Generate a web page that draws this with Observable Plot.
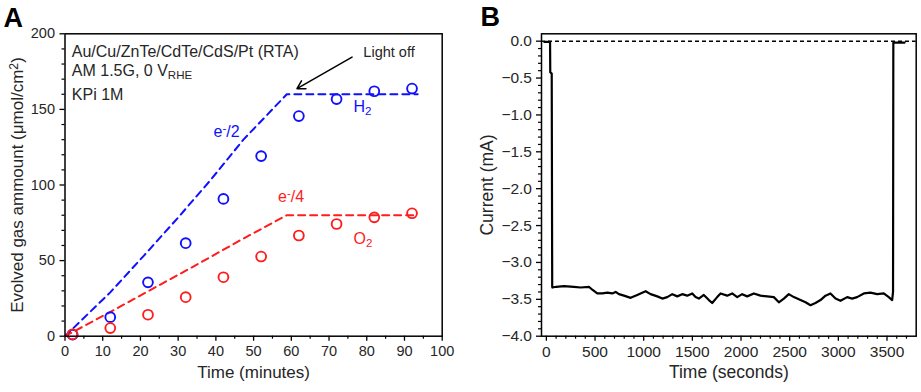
<!DOCTYPE html>
<html><head><meta charset="utf-8">
<script src="https://cdn.jsdelivr.net/npm/d3@7"></script>
<script src="https://cdn.jsdelivr.net/npm/@observablehq/plot@0.6"></script>
<style>
body{margin:0;background:#fff;}
#wrap{position:relative;width:921px;height:392px;overflow:hidden;font-family:"Liberation Sans",Arial,sans-serif;}
#a{position:absolute;left:0;top:0;}
#b{position:absolute;left:460px;top:0;}
</style></head><body><div id="wrap"><div id="a"></div><div id="b"></div></div>
<script>
// ---------- Panel A data ----------
const timeMin = [2, 12, 22, 32, 42, 52, 62, 72, 82, 92];
const h2Amount = [1, 12.6, 35.6, 61.5, 90.8, 119.1, 145.6, 156.8, 162, 163.8];
const o2Amount = [1.2, 5.4, 14.2, 25.8, 39, 52.7, 66.6, 74.2, 78.6, 81.3];
const theoTimeH2 = [0, 12, 21, 30, 38.5, 47.3, 58.8, 93.5];
const theoH2 = [0, 29, 53.5, 78.5, 103, 130, 160, 160];
const theoTimeO2 = [0, 12, 22.6, 35.8, 46.5, 58.8, 93.5];
const theoO2 = [0, 16, 30.5, 48.5, 63.5, 80, 80];
const xTicksA = [0, 10, 20, 30, 40, 50, 60, 70, 80, 90, 100];
const xMinorA = [5, 15, 25, 35, 45, 55, 65, 75, 85, 95];
const yTicksA = [0, 50, 100, 150, 200];
const yMinorA = [10, 20, 30, 40, 60, 70, 80, 90, 110, 120, 130, 140, 160, 170, 180, 190];
const notesA = [
  {x: 1.8, y: 184.6, text: "Au/Cu/ZnTe/CdTe/CdS/Pt (RTA)"},
  {x: 1.8, y: 171.8, text: "AM 1.5G, 0 V_{RHE}"},
  {x: 1.8, y: 156.0, text: "KPi 1M"}
];
const seriesLabelsA = [
  {x: 39.4, y: 131.6, text: "e^{-}/2", color: "blue"},
  {x: 76.5, y: 148.5, text: "H_{2}", color: "blue"},
  {x: 56.5, y: 88.7, text: "e^{-}/4", color: "red"},
  {x: 76.5, y: 61.1, text: "O_{2}", color: "red"}
];
const lightOff = {label: "Light off", lx: 79.1, ly: 184.4, x1: 76.1, y1: 184.6, x2: 61.5, y2: 163.7};

// ---------- Panel B data ----------
const tSec = [-20, 38, 40, 55, 60, 62, 100, 181, 283, 352, 437, 472, 523, 575, 626, 677, 712, 746, 797, 866, 934, 985, 1020, 1071, 1140, 1191, 1242, 1294, 1345, 1396, 1447, 1499, 1533, 1567, 1618, 1670, 1704, 1755, 1790, 1858, 1909, 1961, 2012, 2063, 2132, 2200, 2269, 2337, 2389, 2440, 2491, 2543, 2611, 2663, 2714, 2765, 2817, 2868, 2919, 2971, 3022, 3091, 3142, 3193, 3262, 3330, 3399, 3467, 3518, 3553, 3562, 3565, 3680];
const currentMA = [-0.01, -0.01, -0.42, -0.44, -3.33, -3.34, -3.33, -3.32, -3.33, -3.34, -3.33, -3.37, -3.42, -3.42, -3.41, -3.42, -3.40, -3.43, -3.45, -3.48, -3.44, -3.41, -3.39, -3.43, -3.46, -3.49, -3.47, -3.43, -3.46, -3.43, -3.45, -3.42, -3.47, -3.49, -3.44, -3.51, -3.55, -3.47, -3.42, -3.45, -3.42, -3.47, -3.43, -3.46, -3.42, -3.45, -3.46, -3.47, -3.54, -3.49, -3.43, -3.47, -3.51, -3.54, -3.58, -3.55, -3.51, -3.45, -3.42, -3.49, -3.52, -3.47, -3.49, -3.47, -3.42, -3.41, -3.43, -3.42, -3.47, -3.51, -3.40, -0.02, -0.02];
const xTicksB = [0, 500, 1000, 1500, 2000, 2500, 3000, 3500];
const xMinorB = [100, 200, 300, 400, 600, 700, 800, 900, 1100, 1200, 1300, 1400, 1600, 1700, 1800, 1900, 2100, 2200, 2300, 2400, 2600, 2700, 2800, 2900, 3100, 3200, 3300, 3400, 3600, 3700];
const yTicksB = [0, -0.5, -1.0, -1.5, -2.0, -2.5, -3.0, -3.5, -4.0];
const yMinorB = [-0.1, -0.2, -0.3, -0.4, -0.6, -0.7, -0.8, -0.9, -1.1, -1.2, -1.3, -1.4, -1.6, -1.7, -1.8, -1.9, -2.1, -2.2, -2.3, -2.4, -2.6, -2.7, -2.8, -2.9, -3.1, -3.2, -3.3, -3.4, -3.6, -3.7, -3.8, -3.9];

// ---------- styling ----------
const FONT = '"Liberation Sans", Arial, sans-serif';
const BLUE = "#1010ff", RED = "#ff1c1c", INK = "#262626";

function richify(svg) {
  const NS = "http://www.w3.org/2000/svg";
  svg.querySelectorAll("text").forEach(t => {
    const s = t.textContent;
    if (!/[_^]\{/.test(s)) return;
    t.textContent = "";
    const add = (str, kind) => {
      const ts = document.createElementNS(NS, "tspan");
      ts.textContent = str;
      if (kind) {
        ts.setAttribute("baseline-shift", kind === "_" ? "-22%" : "38%");
        ts.setAttribute("font-size", "72%");
      }
      t.appendChild(ts);
    };
    const re = /([_^])\{([^}]*)\}/g; let last = 0, m;
    while ((m = re.exec(s))) {
      if (m.index > last) add(s.slice(last, m.index), null);
      add(m[2], m[1]);
      last = re.lastIndex;
    }
    if (last < s.length) add(s.slice(last), null);
  });
  return svg;
}

// ---------- Panel A ----------
const pts = timeMin.map((t, i) => ({t, h2: h2Amount[i], o2: o2Amount[i]}));
const lineH2 = theoTimeH2.map((t, i) => ({t, v: theoH2[i]}));
const lineO2 = theoTimeO2.map((t, i) => ({t, v: theoO2[i]}));

const plotA = Plot.plot({
  width: 460, height: 392,
  marginLeft: 64.5, marginRight: 18.3, marginTop: 33.3, marginBottom: 56.3,
  style: {fontFamily: FONT, fontSize: "14.5px", color: "black", background: "white", overflow: "visible"},
  x: {domain: [0, 100]},
  y: {domain: [0, 200]},
  marks: [
    Plot.axisX({ticks: xTicksA, tickSize: 5, tickPadding: 5, strokeWidth: 1.3, fill: INK, fontSize: 14.5, label: null}),
    Plot.axisX({ticks: xMinorA, tickSize: 3, tickFormat: () => "", strokeWidth: 1.2, label: null}),
    Plot.axisY({ticks: yTicksA, tickSize: 5, tickPadding: 5, strokeWidth: 1.3, fill: INK, fontSize: 14.5, label: null}),
    Plot.axisY({ticks: yMinorA, tickSize: 3, tickFormat: () => "", strokeWidth: 1.2, label: null}),
    Plot.line(lineH2, {x: "t", y: "v", stroke: BLUE, strokeWidth: 2, strokeDasharray: "7,5"}),
    Plot.line(lineO2, {x: "t", y: "v", stroke: RED, strokeWidth: 2, strokeDasharray: "7,5"}),
    Plot.dot(pts, {x: "t", y: "h2", r: 4.9, stroke: BLUE, strokeWidth: 1.9, fill: "none"}),
    Plot.dot(pts, {x: "t", y: "o2", r: 4.9, stroke: RED, strokeWidth: 1.9, fill: "none"}),
    Plot.arrow([lightOff], {x1: "x1", y1: "y1", x2: "x2", y2: "y2", stroke: "black", strokeWidth: 1.5, headLength: 9}),
    Plot.text([lightOff], {x: "lx", y: "ly", text: "label", textAnchor: "start", lineAnchor: "bottom", fontSize: 14.5, fill: INK}),
    Plot.text(notesA, {x: "x", y: "y", text: "text", textAnchor: "start", lineAnchor: "bottom", fontSize: 16, fill: INK}),
    Plot.text(seriesLabelsA, {x: "x", y: "y", text: "text", textAnchor: "start", lineAnchor: "bottom", fontSize: 16, fill: d => d.color === "blue" ? BLUE : RED}),
    Plot.text(["Time (minutes)"], {text: d => d, frameAnchor: "bottom", textAnchor: "middle", dy: 42, fontSize: 17, fill: INK}),
    Plot.text(["Evolved gas ammount (\u03bcmol/cm^{2})"], {text: d => d, frameAnchor: "left", textAnchor: "middle", rotate: -90, dx: -47.5, fontSize: 17, fill: INK}),
    Plot.text(["A"], {text: d => d, frameAnchor: "top-left", dx: -61.5, dy: -6.6, textAnchor: "start", lineAnchor: "bottom", fontSize: 27, fontWeight: "bold", fill: "black"}),
    Plot.frame({stroke: "black", strokeWidth: 1.5})
  ]
});
document.getElementById("a").appendChild(richify(plotA));

// ---------- Panel B ----------
const trace = tSec.map((t, i) => ({t, i: currentMA[i]}));
const plotB = Plot.plot({
  width: 461, height: 392,
  marginLeft: 81, marginRight: 5.3, marginTop: 33.3, marginBottom: 56.3,
  style: {fontFamily: FONT, fontSize: "15.5px", color: "black", background: "white", overflow: "visible"},
  x: {domain: [-50, 3800]},
  y: {domain: [-4, 0.1]},
  marks: [
    Plot.axisX({ticks: xTicksB, tickSize: 5, tickPadding: 5, strokeWidth: 1.3, fill: INK, fontSize: 15.5, tickFormat: d => String(d), label: null}),
    Plot.axisX({ticks: xMinorB, tickSize: 3, tickFormat: () => "", strokeWidth: 1.2, label: null}),
    Plot.axisY({ticks: yTicksB, tickSize: 5, tickPadding: 4.5, strokeWidth: 1.3, fill: INK, fontSize: 15.5, tickFormat: d3.format(".1f"), label: null}),
    Plot.axisY({ticks: yMinorB, tickSize: 3, tickFormat: () => "", strokeWidth: 1.2, label: null}),
    Plot.ruleY([0], {stroke: "black", strokeWidth: 1.5, strokeDasharray: "4,3"}),
    Plot.line(trace, {x: "t", y: "i", stroke: "black", strokeWidth: 2.2}),
    Plot.text(["Time (seconds)"], {text: d => d, frameAnchor: "bottom", textAnchor: "middle", dy: 42, fontSize: 17.5, fill: INK}),
    Plot.text(["Current (mA)"], {text: d => d, frameAnchor: "left", textAnchor: "middle", rotate: -90, dx: -54, fontSize: 17.5, fill: INK}),
    Plot.text(["B"], {text: d => d, frameAnchor: "top-left", dx: -61, dy: -8.3, textAnchor: "start", lineAnchor: "bottom", fontSize: 27, fontWeight: "bold", fill: "black"}),
    Plot.frame({stroke: "black", strokeWidth: 1.5})
  ]
});
document.getElementById("b").appendChild(richify(plotB));
</script></body></html>
